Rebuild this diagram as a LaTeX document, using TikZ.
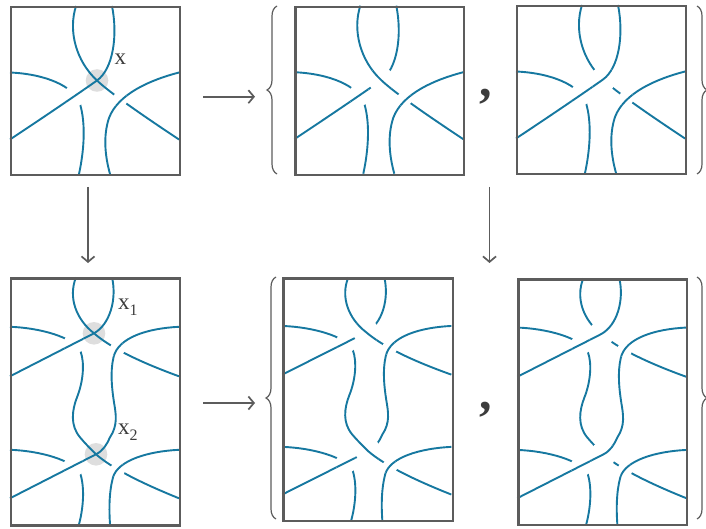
\documentclass[tikz,border=0pt]{standalone}
\usepackage{fontspec}
\setmainfont{Liberation Serif}
\usetikzlibrary{arrows.meta,decorations.pathreplacing}
\definecolor{strandc}{RGB}{22,120,160}
\definecolor{framec}{RGB}{92,92,92}
\definecolor{singc}{RGB}{222,222,222}
\definecolor{textc}{RGB}{60,60,60}
\tikzset{
 strand/.style={draw=strandc, line width=1.9pt},
 boxframe/.style={draw=framec, line width=2.2pt, inner sep=0pt, anchor=north west},
 arr/.style={draw=framec, line width=1.7pt, -{Straight Barb[length=5.5pt,width=13pt]}},
 brc/.style={draw=framec, line width=1.2pt, decorate, decoration={brace, amplitude=10pt, aspect=0.5}},
 lbl/.style={inner sep=0pt, anchor=base west, text=textc, font=\fontsize{23}{23}\selectfont},
 commast/.style={inner sep=0pt, text=textc, font=\fontsize{50}{50}\selectfont\bfseries},
}
% strands of the single tangle (box 169 x 168)
\def\TopA{(66,0) .. controls (58,25) and (66,55) .. (87,74.5) .. controls (97,84) and (120,101) .. (169,133.5)}
\def\TopB{(102,0) .. controls (108,30) and (103,63) .. (87,74.5) .. controls (75,83) and (40,107) .. (0,133.5)}
\def\TopC{(169,66.5) .. controls (140,74) and (108,88) .. (99,112) .. controls (93,130) and (95,150) .. (100,168)}
\def\TopD{(0,66.5) .. controls (35,68) and (64,80) .. (70,98) .. controls (76,118) and (74,145) .. (69,168)}
% strands of the double tangle (box 169 x 247)
\def\BotA{(66,0) .. controls (58,20) and (66,42) .. (84,56) .. controls (99,69) and (125,83) .. (169,99)}
\def\BotB{(102,0) .. controls (107,22) and (100,47) .. (84,56) -- (0,99)}
\def\BotL{(0,49.5) .. controls (30,50.5) and (64,60) .. (70.5,74) .. controls (75,86) and (73,105) .. (67,120) .. controls (62,133) and (60,148) .. (70,160) .. controls (75,166) and (80,171) .. (86,177) .. controls (101,190) and (127,204) .. (169,221)}
\def\BotR{(169,49.5) .. controls (138,51) and (108,60) .. (103.5,80) .. controls (100,95) and (102,112) .. (104,125) .. controls (106,137) and (108,148) .. (100,160) .. controls (97,167) and (93,173.5) .. (86,177) -- (0,221)}
\def\BotD{(0,172.5) .. controls (30,173.5) and (64,183) .. (70.5,197) .. controls (75,212) and (73,232) .. (69,247)}
\def\BotC{(169,172.5) .. controls (138,174) and (108,183) .. (103,200) .. controls (99,215) and (99,232) .. (100,247)}
% over-crossing: blank a disc and redraw the over strand inside it
\newcommand{\kcross}[3]{\begin{scope}\clip (#1) circle (#2pt); \fill[white] (#1) circle (#2pt+1pt); \draw[strand] #3; \end{scope}}
\newcommand{\TopStrands}{\draw[strand] \TopA; \draw[strand] \TopB; \draw[strand] \TopC; \draw[strand] \TopD;
 \kcross{65,89.5}{11}{\TopB}\kcross{110,93.5}{7.5}{\TopC}}
\newcommand{\BotStrands}{\draw[strand] \BotA; \draw[strand] \BotB; \draw[strand] \BotL; \draw[strand] \BotR; \draw[strand] \BotD; \draw[strand] \BotC;
 \kcross{64,66.3}{10.5}{\BotB}\kcross{107.3,71.8}{7.5}{\BotR}\kcross{63.7,189}{10.5}{\BotR}\kcross{107.5,192.6}{7.5}{\BotC}}
\begin{document}
\begin{tikzpicture}[x=1pt,y=-1pt]
\useasboundingbox (0,0) rectangle (706,529);
% ---- top row
\begin{scope}[shift={(10,6)}]
 \fill[singc] (87,74.5) circle (11.3pt);
 \TopStrands
\end{scope}
\begin{scope}[shift={(294.3,5.7)}]
 \TopStrands
 \kcross{87,74.5}{13}{\TopA}
\end{scope}
\begin{scope}[shift={(516,5)}]
 \TopStrands
 \kcross{87,74.5}{13}{\TopB}
\end{scope}
% ---- bottom row
\begin{scope}[shift={(10,277.3)}]
 \fill[singc] (84,56) circle (11.3pt);
 \fill[singc] (86,177) circle (11.3pt);
 \BotStrands
\end{scope}
\begin{scope}[shift={(282.3,277.3)}, yscale=0.983]
 \BotStrands
 \kcross{84,56}{13}{\BotA}
 \kcross{86,177}{13}{\BotL}
\end{scope}
\begin{scope}[shift={(517.3,278.3)}, yscale=0.995]
 \BotStrands
 \kcross{84,56}{13}{\BotB}
 \kcross{86,177}{13}{\BotR}
\end{scope}
% ---- frames
\node[boxframe, minimum width=169pt, minimum height=168pt] (TL) at (10,6) {};
\node[boxframe, minimum width=168.7pt, minimum height=168.3pt] (TM) at (294.3,5.7) {};
\node[boxframe, minimum width=168.7pt, minimum height=168.3pt] (TR) at (516,5) {};
\node[boxframe, minimum width=169pt, minimum height=247pt] (BL) at (10,277.3) {};
\node[boxframe, minimum width=169.4pt, minimum height=242.7pt] (BM) at (282.3,277.3) {};
\node[boxframe, minimum width=168.7pt, minimum height=245.7pt] (BR) at (517.3,278.3) {};
% ---- labels
\node[lbl] (lx) at (114.5,65) {x};
\node[lbl] (lx1) at (118,309) {x\raisebox{-6.7pt}{\fontsize{16}{16}\selectfont 1}};
\node[lbl] (lx2) at (118,434) {x\raisebox{-6.7pt}{\fontsize{16}{16}\selectfont 2}};
% ---- commas
\node[commast] (c1) at (486,97) {,};
\node[commast] (c2) at (486,410) {,};
% ---- braces
\coordinate (b1s) at (277,174); \coordinate (b1e) at (277,6);
\coordinate (b2s) at (697,6);   \coordinate (b2e) at (697,174);
\coordinate (b3s) at (276,519); \coordinate (b3e) at (276,277);
\coordinate (b4s) at (697,277); \coordinate (b4e) at (697,519);
\draw[brc] (b1s) -- (b1e);
\draw[brc] (b2s) -- (b2e);
\draw[brc] (b3s) -- (b3e);
\draw[brc] (b4s) -- (b4e);
% ---- arrows
\coordinate (h1s) at (203,96.7); \coordinate (h1e) at (255,96.7);
\coordinate (h2s) at (203,403);  \coordinate (h2e) at (255,403);
\coordinate (v1s) at (88,187);   \coordinate (v1e) at (88,263);
\coordinate (v2s) at (489.5,187);  \coordinate (v2e) at (489.5,263);
\draw[arr] (h1s) -- (h1e);
\draw[arr] (h2s) -- (h2e);
\draw[arr] (v1s) -- (v1e);
\draw[arr] (v2s) -- (v2e);
\end{tikzpicture}
\end{document}
